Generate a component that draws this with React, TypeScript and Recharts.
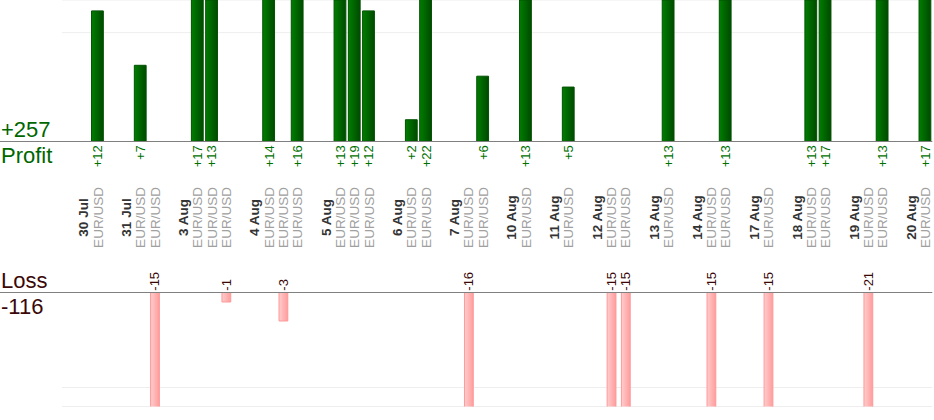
import React from 'react';
import { BarChart, Bar, XAxis, YAxis, CartesianGrid } from 'recharts';

// ---- data ----
const symbol = 'EUR/USD';
const dates = ['30 Jul', '31 Jul', '3 Aug', '4 Aug', '5 Aug', '6 Aug', '7 Aug', '10 Aug', '11 Aug', '12 Aug', '13 Aug', '14 Aug', '17 Aug', '18 Aug', '19 Aug', '20 Aug'];
const results: number[][] = [
  [12],
  [7, -15],
  [17, 13, -1],
  [14, -3, 16],
  [13, 19, 12],
  [2, 22],
  [-16, 6],
  [13],
  [5],
  [-15, -15],
  [13],
  [-15, 13],
  [-15],
  [13, 17],
  [-21, 13],
  [17],
];
const profitDomain = [0, 13];
const lossDomain = [-12, 0];
const profitTicks = [10];
const lossTicks = [-10];

// ---- table built for the library ----
type Slot = { key: number; kind: 'gap' | 'date' | 'trade'; label: string; profit: number | null; loss: number | null };
const slots: Slot[] = [];
dates.forEach((d, i) => {
  slots.push({ key: slots.length, kind: 'gap', label: '', profit: null, loss: null });
  slots.push({ key: slots.length, kind: 'date', label: d, profit: null, loss: null });
  results[i].forEach((v) =>
    slots.push({ key: slots.length, kind: 'trade', label: symbol, profit: v > 0 ? v : null, loss: v < 0 ? v : null })
  );
});
const totalProfit = results.flat().filter((v) => v > 0).reduce((a, b) => a + b, 0);
const totalLoss = results.flat().filter((v) => v < 0).reduce((a, b) => a + b, 0);

const FONT = '"Liberation Sans", Arial, Helvetica, sans-serif';
const W = 934;
const LEFT = 62;
const RIGHT = 1.7;

const slotOf = (payload: any, index: any): Slot | undefined => {
  const v = payload && payload.value;
  if (typeof v === 'number' && slots[v]) return slots[v];
  if (typeof index === 'number') return slots[index];
  return undefined;
};

const ProfitTick = (props: any) => {
  const { x, y, payload, index } = props;
  const s = slotOf(payload, index);
  if (!s) return <g />;
  return (
    <g>
      {s.profit != null && (
        <text
          transform={`translate(${x},${y + 3.7}) rotate(-90)`}
          textAnchor="end"
          dy="0.36em"
          fontSize={13}
          fontFamily={FONT}
          fill="#007000"
        >
          {'+' + s.profit}
        </text>
      )}
      {s.kind !== 'gap' && (
        <text
          transform={`translate(${x},${y + 76}) rotate(-90)`}
          textAnchor="middle"
          dy="0.36em"
          fontSize={13.5}
          fontFamily={FONT}
          fontWeight={s.kind === 'date' ? 'bold' : 'normal'}
          fill={s.kind === 'date' ? '#333333' : '#a0a0a0'}
        >
          {s.label}
        </text>
      )}
    </g>
  );
};

const LossTick = (props: any) => {
  const { x, y, payload, index } = props;
  const s = slotOf(payload, index);
  if (!s || s.loss == null) return <g />;
  return (
    <text
      transform={`translate(${x},${y - 1.8}) rotate(-90)`}
      textAnchor="start"
      dy="0.36em"
      fontSize={13}
      fontFamily={FONT}
      fill="#3a0606"
    >
      {String(s.loss)}
    </text>
  );
};

export default function App() {
  return (
    <div style={{ position: 'absolute', left: 0, top: 0, width: W, height: 420, background: '#fff', fontFamily: FONT }}>
      <div style={{ position: 'absolute', left: 0, top: 0 }}>
        <BarChart width={W} height={260} data={slots} margin={{ top: 0, right: RIGHT, left: LEFT, bottom: 0 }}>
          <defs>
            <linearGradient id="gGreen" x1="0" y1="0" x2="1" y2="0">
              <stop offset="0%" stopColor="#007e00" />
              <stop offset="100%" stopColor="#004a00" />
            </linearGradient>
          </defs>
          <CartesianGrid vertical={false} stroke="#eeeeee" />
          <XAxis
            dataKey="key"
            type="category"
            interval={0}
            tickLine={false}
            tickSize={0}
            tickMargin={0}
            height={118.5}
            axisLine={{ stroke: '#808080' }}
            tick={ProfitTick}
          />
          <YAxis hide type="number" domain={profitDomain} allowDataOverflow ticks={profitTicks} />
          <Bar dataKey="profit" fill="url(#gGreen)" stroke="#005200" strokeWidth={1} barSize={11.8} isAnimationActive={false} />
        </BarChart>
      </div>
      <div style={{ position: 'absolute', left: 0, top: 260 }}>
        <BarChart width={W} height={160} data={slots} margin={{ top: 0, right: RIGHT, left: LEFT, bottom: 13.5 }}>
          <defs>
            <linearGradient id="gPink" x1="0" y1="0" x2="1" y2="0">
              <stop offset="0%" stopColor="#ffcdcd" />
              <stop offset="100%" stopColor="#ff9c9c" />
            </linearGradient>
          </defs>
          <CartesianGrid vertical={false} stroke="#eeeeee" />
          <XAxis
            dataKey="key"
            type="category"
            orientation="top"
            interval={0}
            tickLine={false}
            tickSize={0}
            tickMargin={0}
            height={32.5}
            axisLine={{ stroke: '#808080' }}
            tick={LossTick}
          />
          <YAxis hide type="number" domain={lossDomain} allowDataOverflow ticks={lossTicks} />
          <Bar dataKey="loss" fill="url(#gPink)" stroke="#ff9999" strokeWidth={1} barSize={8.8} isAnimationActive={false} />
        </BarChart>
      </div>
      <svg width={W} height={420} style={{ position: 'absolute', left: 0, top: 0, pointerEvents: 'none' }}>
        <line x1={0} x2={LEFT} y1={141.5} y2={141.5} stroke="#808080" />
        <line x1={0} x2={LEFT} y1={292.5} y2={292.5} stroke="#808080" />
        <text x={1} y={137.3} fontSize={22} fontFamily={FONT} fill="#006600">{'+' + totalProfit}</text>
        <text x={1} y={162.5} fontSize={22} fontFamily={FONT} fill="#006600">Profit</text>
        <text x={1} y={287.7} fontSize={22} fontFamily={FONT} fill="#3a0808">Loss</text>
        <text x={1} y={314} fontSize={22} fontFamily={FONT} fill="#3a0808">{String(totalLoss)}</text>
      </svg>
    </div>
  );
}
